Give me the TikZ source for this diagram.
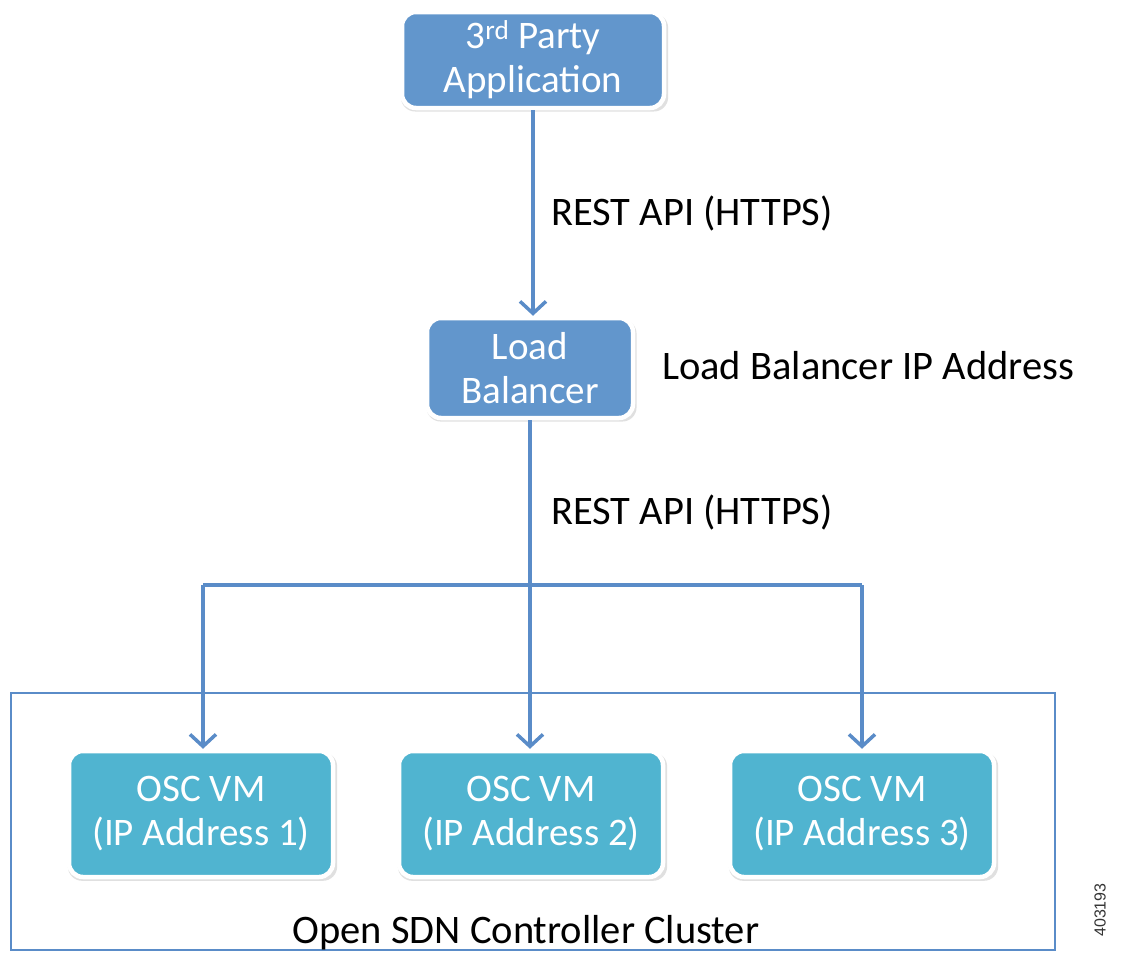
\documentclass[tikz,border=0pt]{standalone}
\usepackage{fontspec}
\setmainfont{Carlito}
\newfontfamily\arialfont{Liberation Sans}
\usetikzlibrary{arrows.meta,shadows}
\definecolor{boxblue}{RGB}{98,150,204}
\definecolor{boxteal}{RGB}{80,180,208}
\definecolor{linkblue}{RGB}{90,140,200}
\tikzset{
  blockbox/.style={rounded corners=14pt, draw=white, line width=4.5pt,
    text=white, align=center, font=\fontsize{39}{44}\selectfont, inner sep=2pt,
    drop shadow={shadow xshift=1.5pt, shadow yshift=-2.5pt, shadow scale=1.02, fill=black!22, opacity=0.55}},
  appbox/.style={blockbox, fill=boxblue, minimum width=262pt, minimum height=96pt},
  lbbox/.style={blockbox, fill=boxblue, minimum width=206pt, minimum height=100pt},
  vmbox/.style={blockbox, fill=boxteal, minimum width=264pt, minimum height=126pt},
  flow/.style={draw=linkblue, line width=3.5pt},
  flowarrow/.style={flow, -{Straight Barb[length=12pt, width=26pt, line width=3.5pt]}},
  lbl/.style={font=\fontsize{40.5}{46}\selectfont, text=black, inner sep=0pt},
}
\begin{document}
\begin{tikzpicture}[x=1pt,y=-1pt]
\useasboundingbox (0,0) rectangle (1121,953);
\fill[white] (0,0) rectangle (1121,953);
% cluster frame
\draw[draw=linkblue, line width=2pt] (11,693) rectangle (1055,950);
% nodes
\node[appbox] (app) at (533,60) {3\textsuperscript{rd} Party\\Application};
\node[lbbox] (lb) at (530,368) {Load\\Balancer};
\node[vmbox] (vm1) at (201,814) {OSC VM\\(IP Address 1)};
\node[vmbox] (vm2) at (531,814) {OSC VM\\(IP Address 2)};
\node[vmbox] (vm3) at (862,814) {OSC VM\\(IP Address 3)};
% junction coordinates
\coordinate (j) at (530,585);
\coordinate (jl) at (203,585);
\coordinate (jr) at (862,585);
% connectors
\draw[flowarrow] (app.south) -- (app.south |- lb.north);
\draw[flow] (lb.south) -- (j);
\draw[flow] (jl) -- (jr);
\draw[flowarrow] (jl) -- (vm1.north -| jl);
\draw[flowarrow] (j) -- (vm2.north -| j);
\draw[flowarrow] (jr) -- (vm3.north -| jr);
% labels
\node[lbl, anchor=west] (l1) at (551,213) {REST API (HTTPS)};
\node[lbl, anchor=west] (l2) at (551,512) {REST API (HTTPS)};
\node[lbl, anchor=west] (l3) at (662,366) {Load Balancer IP Address};
\node[lbl] (l4) at (526,933) {Open SDN Controller Cluster};
\node[font=\arialfont\fontsize{16}{18}\selectfont, text=black!80, rotate=90, inner sep=0pt] (id) at (1100,910) {403193};
\end{tikzpicture}
\end{document}
